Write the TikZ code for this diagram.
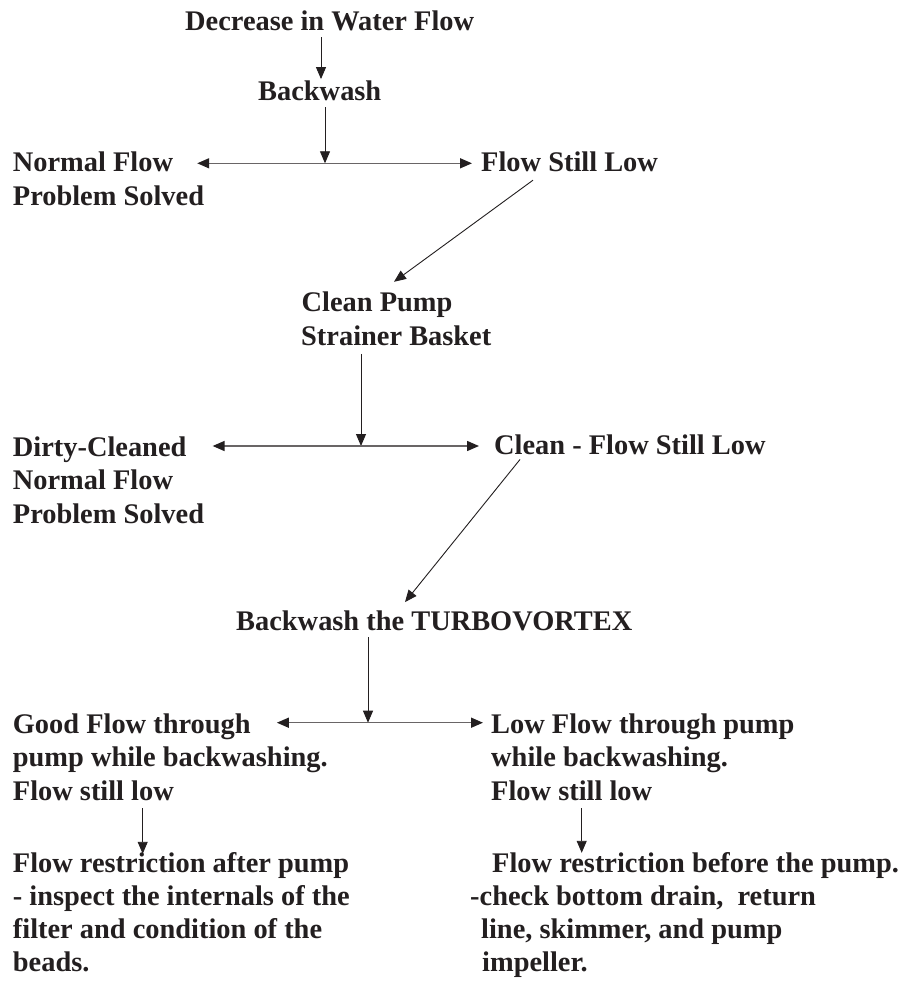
\documentclass[tikz,border=0pt]{standalone}
\usepackage{fontspec}
\setmainfont{Liberation Serif}
\usetikzlibrary{arrows.meta}
\definecolor{ink}{RGB}{35,31,32}
\definecolor{hgray}{RGB}{105,101,102}
\begin{document}
\begin{tikzpicture}[x=1pt,y=-1pt,
  lbl/.style={anchor=base west,inner sep=0pt,text=ink,font=\fontsize{28.4}{33}\selectfont\bfseries},
  varrow/.style={draw=ink,line width=0.9pt,-{Triangle[length=12pt,width=10pt]}},
  harrow/.style={draw=hgray,line width=1.5pt,-{Triangle[length=12pt,width=10pt,color=ink]}}]
\useasboundingbox[fill=white] (0,0) rectangle (908,987);

% axis helpers and junctions
\coordinate (xa) at (321,0);
\coordinate (xb) at (142.7,0);
\coordinate (xc) at (581.7,0);
\coordinate (j1) at (325,163.3);
\coordinate (j2) at (361,446);
\coordinate (j3) at (368,722.7);

% texts
\node[lbl] (title) at (185,30.7) {Decrease in Water Flow};
\node[lbl] (bw) at (258,101) {Backwash};
\node[lbl] (nf1) at (12.7,171.7) {Normal Flow};
\node[lbl] (nf2) at (12.7,205) {Problem Solved};
\node[lbl] (fsl) at (481,171.7) {Flow Still Low};
\node[lbl] (cp1) at (301.5,311.7) {Clean Pump};
\node[lbl] (cp2) at (301,345) {Strainer Basket};
\node[lbl] (dc1) at (12.7,456) {Dirty-Cleaned};
\node[lbl] (dc2) at (12.7,489.5) {Normal Flow};
\node[lbl] (dc3) at (12.7,523) {Problem Solved};
\node[lbl] (cfsl) at (494,454) {Clean - Flow Still Low};
\node[lbl] (turbo) at (236,630) {Backwash the TURBOVORTEX};
\node[lbl] (gf1) at (12.7,733) {Good Flow through};
\node[lbl] (gf2) at (12.7,766.5) {pump while backwashing.};
\node[lbl] (gf3) at (12.7,800) {Flow still low};
\node[lbl] (lf1) at (491,733) {Low Flow through pump};
\node[lbl] (lf2) at (491,766.5) {while backwashing.};
\node[lbl] (lf3) at (491,800) {Flow still low};
\node[lbl] (fr1) at (12.7,872) {Flow restriction after pump};
\node[lbl] (fr2) at (12.7,905.5) {- inspect the internals of the};
\node[lbl] (fr3) at (12.7,938.5) {filter and condition of the};
\node[lbl] (fr4) at (12.7,971) {beads.};
\node[lbl] (rb1) at (492,872) {Flow restriction before the pump.};
\node[lbl] (rb2) at (470,905.5) {-check bottom drain,~ return};
\node[lbl] (rb3) at (481,938.5) {line, skimmer, and pump};
\node[lbl] (rb4) at (482,971) {impeller.};

% connectors
\draw[varrow,shorten <=6pt,shorten >=2pt] (title.south -| xa) -- (bw.north -| xa);
\draw[varrow,shorten <=5.7pt] (bw.south -| j1) -- (j1);
\draw[harrow,shorten >=24pt] (j1) -- (j1 -| nf1.east);
\draw[harrow,shorten >=9pt] (j1) -- (j1 -| fsl.west);
\draw[varrow] ([xshift=52pt,yshift=-8pt]fsl.south west) -- ([xshift=92.5pt,yshift=10pt]cp1.north west);
\draw[varrow,shorten <=8.3pt] (cp2.south -| j2) -- (j2);
\draw[harrow,shorten >=26pt] (j2) -- (j2 -| dc1.east);
\draw[harrow,shorten >=15pt] (j2) -- (j2 -| cfsl.west);
\draw[varrow] ([xshift=26pt,yshift=-5pt]cfsl.south west) -- ([xshift=169pt,yshift=8pt]turbo.north west);
\draw[varrow,shorten <=6.7pt] (turbo.south -| j3) -- (j3);
\draw[harrow,shorten >=26pt] (j3) -- (j3 -| gf1.east);
\draw[harrow,shorten >=8pt] (j3) -- (j3 -| lf1.west);
\draw[varrow,shorten <=8pt,shorten >=-2pt] (gf3.south -| xb) -- (fr1.north -| xb);
\draw[varrow,shorten <=8pt,shorten >=-1pt] (lf3.south -| xc) -- (rb1.north -| xc);
\end{tikzpicture}
\end{document}
